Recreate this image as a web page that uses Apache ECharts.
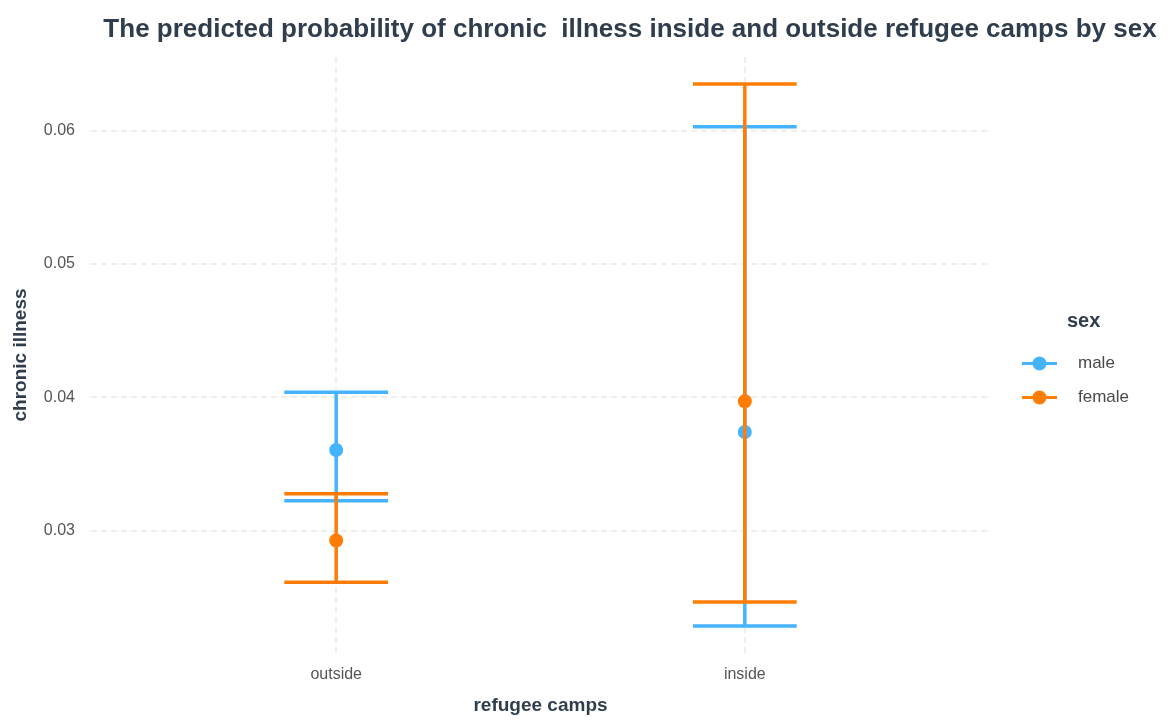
<!DOCTYPE html>
<html>
<head>
<meta charset="utf-8">
<title>Chronic illness by refugee camp and sex</title>
<script src="https://cdn.jsdelivr.net/npm/echarts@6/dist/echarts.min.js"></script>
<style>
  html, body { margin: 0; padding: 0; background: #ffffff; }
  #chart { width: 1168px; height: 720px; }
</style>
</head>
<body>
<div id="chart"></div>
<script>
// Categories on the x axis (placed at positions 1, 2 of a discrete scale)
const camps = ['outside', 'inside'];
const sexes = ['male', 'female'];

// Predicted probabilities with confidence limits, per camp (outside, inside)
const maleEstimate   = [0.03604, 0.03739];
const maleLower      = [0.03224, 0.02284];
const maleUpper      = [0.04037, 0.06030];
const femaleEstimate = [0.02925, 0.03970];
const femaleLower    = [0.02612, 0.02463];
const femaleUpper    = [0.03276, 0.06350];

// Y tick labels
const yTicks = [0.03, 0.04, 0.05, 0.06];

const colors = { male: '#45b3fd', female: '#ff7d05' };
const FONT = 'Liberation Sans, Arial, sans-serif';

function rows(est, lo, hi) {
  return camps.map((c, i) => [i + 1, est[i], lo[i], hi[i]]);
}

// Point estimate with a capped vertical error bar
function errorBarItem(color) {
  return function (params, api) {
    const x = api.value(0);
    const capHalf = 0.127;
    const top = api.coord([x, api.value(3)]);
    const bottom = api.coord([x, api.value(2)]);
    const capL = api.coord([x - capHalf, api.value(3)]);
    const capR = api.coord([x + capHalf, api.value(3)]);
    const capL2 = api.coord([x - capHalf, api.value(2)]);
    const capR2 = api.coord([x + capHalf, api.value(2)]);
    const pt = api.coord([x, api.value(1)]);
    const lineStyle = { stroke: color, lineWidth: 3.5 };
    return {
      type: 'group',
      children: [
        { type: 'circle', shape: { cx: pt[0], cy: pt[1], r: 7 }, style: { fill: color } },
        { type: 'line', shape: { x1: top[0], y1: top[1], x2: bottom[0], y2: bottom[1] }, style: lineStyle },
        { type: 'line', shape: { x1: capL[0], y1: capL[1], x2: capR[0], y2: capR[1] }, style: lineStyle },
        { type: 'line', shape: { x1: capL2[0], y1: capL2[1], x2: capR2[0], y2: capR2[1] }, style: lineStyle }
      ]
    };
  };
}

// Legend key: a short line with a dot in the middle
const legendIcon = 'path://M0,5.5 L35,5.5 L35,8.5 L0,8.5 Z M10.5,7 A7,7 0 1 1 24.5,7 A7,7 0 1 1 10.5,7 Z';

const chart = echarts.init(document.getElementById('chart'), null, { renderer: 'canvas' });

chart.setOption({
  animation: false,
  backgroundColor: '#ffffff',
  title: [
    {
      text: 'The predicted probability of chronic  illness inside and outside refugee camps by sex',
      left: 625,
      top: 12,
      textAlign: 'center',
      textStyle: { fontFamily: FONT, fontSize: 26, fontWeight: 'bold', color: '#2f3d4c' }
    },
    {
      text: 'sex',
      left: 1062,
      top: 306,
      textStyle: { fontFamily: FONT, fontSize: 20, fontWeight: 'bold', color: '#2f3d4c' }
    }
  ],
  legend: {
    orient: 'vertical',
    left: 1017,
    top: 350,
    itemWidth: 35,
    itemHeight: 14,
    itemGap: 17,
    icon: legendIcon,
    textStyle: { fontFamily: FONT, fontSize: 17, color: '#4a4a4a', padding: [0, 0, 0, 16] },
    data: sexes.map(s => ({ name: s, itemStyle: { color: colors[s] } }))
  },
  grid: { left: 91, right: 178, top: 57, bottom: 64, containLabel: false },
  xAxis: {
    type: 'value',
    min: 0.4,
    max: 2.6,
    name: 'refugee camps',
    nameLocation: 'middle',
    nameGap: 43,
    nameTextStyle: { fontFamily: FONT, fontSize: 19, fontWeight: 'bold', color: '#2f3d4c' },
    axisLine: { show: false },
    axisTick: { show: false, customValues: [1, 2] },
    axisLabel: {
      customValues: [1, 2],
      margin: 14,
      fontFamily: FONT,
      fontSize: 16,
      color: '#555555',
      formatter: v => camps[Math.round(v) - 1] || ''
    },
    splitLine: { show: true, lineStyle: { color: '#e9e9e9', type: [6, 4], width: 1.5 } }
  },
  yAxis: {
    type: 'value',
    min: 0.02081,
    max: 0.06553,
    name: 'chronic illness',
    nameLocation: 'middle',
    nameGap: 61,
    nameTextStyle: { fontFamily: FONT, fontSize: 19, fontWeight: 'bold', color: '#2f3d4c' },
    axisLine: { show: false },
    axisTick: { show: false, customValues: yTicks },
    axisLabel: {
      customValues: yTicks,
      margin: 16,
      fontFamily: FONT,
      fontSize: 16,
      color: '#555555',
      formatter: v => v.toFixed(2)
    },
    splitLine: { show: true, lineStyle: { color: '#e9e9e9', type: [6, 4], width: 1.5 } }
  },
  series: [
    {
      name: 'male',
      type: 'custom',
      itemStyle: { color: colors.male },
      renderItem: errorBarItem(colors.male),
      encode: { x: 0, y: [1, 2, 3] },
      data: rows(maleEstimate, maleLower, maleUpper)
    },
    {
      name: 'female',
      type: 'custom',
      itemStyle: { color: colors.female },
      renderItem: errorBarItem(colors.female),
      encode: { x: 0, y: [1, 2, 3] },
      data: rows(femaleEstimate, femaleLower, femaleUpper)
    }
  ]
});
</script>
</body>
</html>
